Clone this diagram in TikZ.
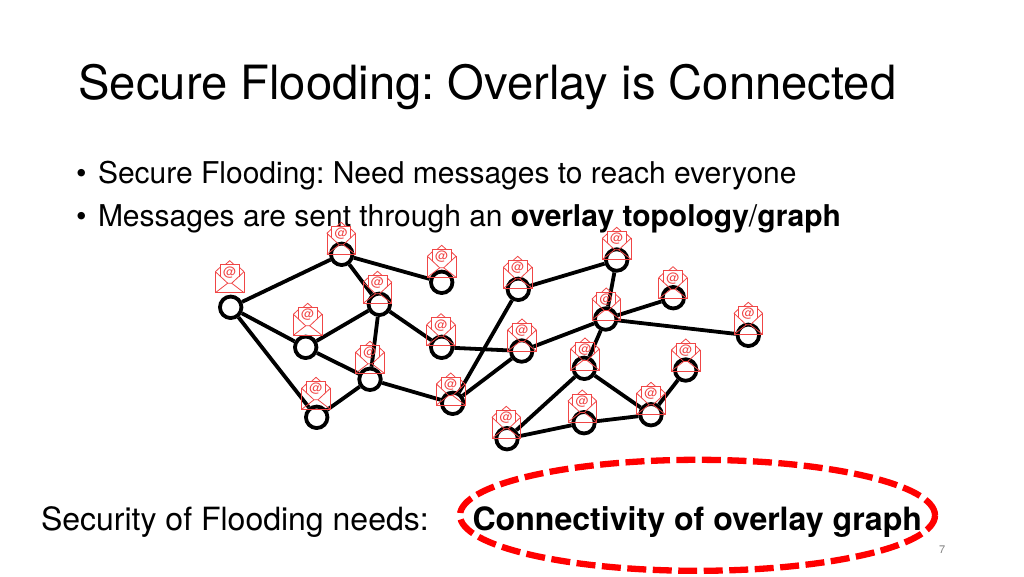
\documentclass[tikz,border=0pt]{standalone}
\usepackage{fontspec}
\usetikzlibrary{shapes.geometric}
\setmainfont{TeX Gyre Heros}
\frenchspacing
\definecolor{envred}{RGB}{240,70,70}
\tikzset{
  peer/.style={circle,draw=black,fill=white,line width=3.8pt,minimum size=21.5pt,inner sep=0pt},
  link/.style={draw=black,line width=3.8pt},
  txt/.style={anchor=base west,inner sep=0pt,outer sep=0pt,text=black},
  envline/.style={draw=envred,line width=0.8pt,line join=miter},
  pics/envelope/.style={code={
    \draw[envline] (-14.3,-21) -- (-14.3,0) -- (14.3,0) -- (14.3,-21);
    \draw[envline] (-14.3,-21) -- (-9.5,-25.5) (14.3,-21) -- (9.5,-25.5);
    \draw[envline] (-4.5,-28) -- (0,-32) -- (4.5,-28);
    \draw[envline] (-9.5,-16) -- (-9.5,-28) -- (9.5,-28) -- (9.5,-16);
    \draw[envline] (-14.3,-21) -- (-2,-9.5) -- (2,-9.5) -- (14.3,-21);
    \draw[envline] (-14.3,0) -- (-2,-9.5) (14.3,0) -- (2,-9.5);
    \node[inner sep=0pt,text=envred,font=\fontsize{13}{13}\selectfont] (at#1) at (0,-20.5) {@};
  }}
}
\begin{document}
\begin{tikzpicture}[x=1pt,y=-1pt]
\useasboundingbox (0,0) rectangle (1024,576);
\fill[white] (0,0) rectangle (1024,576);
\node[txt,font=\fontsize{47.2}{47}\selectfont] (title) at (78.5,99) {Secure Flooding: Overlay is Connected};
\node[txt,font=\fontsize{30}{31}\selectfont] (b1) at (76,183) {•};
\node[txt,font=\fontsize{30}{31}\selectfont] (l1) at (98,183) {Secure Flooding: Need messages to reach everyone};
\node[txt,font=\fontsize{30}{31}\selectfont] (b2) at (76,226) {•};
\node[txt,font=\fontsize{30}{31}\selectfont] (l2) at (98,226) {Messages are sent through an \textbf{overlay topology}/\textbf{graph}};
\foreach \n/\x/\y in {a/230.7/307.3,b/341.7/254.3,c/441.7/282.3,d/379.3/304.3,e/305.7/347.3,f/441.7/347.3,g/370/379.3,h/316.7/417.3,i/452.7/403.3,j/518.3/289.3,k/616.7/260,l/673.3/297.7,m/605.7/319,n/748.3/335.3,o/521.7/351,p/584.3/368.3,q/685.7/370,r/651/414.7,s/584/422.7,t/507/438.7}
  \node[peer] (\n) at (\x,\y) {};
\foreach \u/\v in {a/b,b/c,b/d,a/e,a/h,e/d,e/g,d/g,d/f,g/h,g/i,f/o,i/j,i/o,j/k,k/m,m/l,m/n,m/o,m/p,p/t,p/r,r/q,r/s,s/t}
  \draw[link] (\u) -- (\v);
\foreach \n/\x/\y in {a/229.7/292.7,b/341.2/254.3,c/441.7/277.3,d/377.5/303.3,e/307.7/335.3,f/441/345.7,g/370/373.3,h/316/409.3,i/450.7/405,j/517.7/288.3,k/616.7/259.3,l/673/298.7,m/606.3/320,n/748.3/334.3,o/522/351,p/585/370,q/685.7/371,r/651/414.3,s/582.3/422,t/506.3/438.3}
  \pic at (\x,\y) {envelope=\n};
\node[txt,font=\fontsize{32}{32}\selectfont] (need) at (41,530) {Security of Flooding needs:};
\node[txt,font=\bfseries\fontsize{32.1}{32}\selectfont] (conn) at (472.5,530) {Connectivity of overlay graph};
\node[txt,font=\fontsize{11}{11}\selectfont,text=gray] (num) at (939,553) {7};
\node[draw=red,line width=6.3pt,ellipse,minimum width=475pt,minimum height=111pt,inner sep=0pt,dash pattern=on 19pt off 6.5pt] (ring) at (697.5,515.3) {};
\end{tikzpicture}
\end{document}
